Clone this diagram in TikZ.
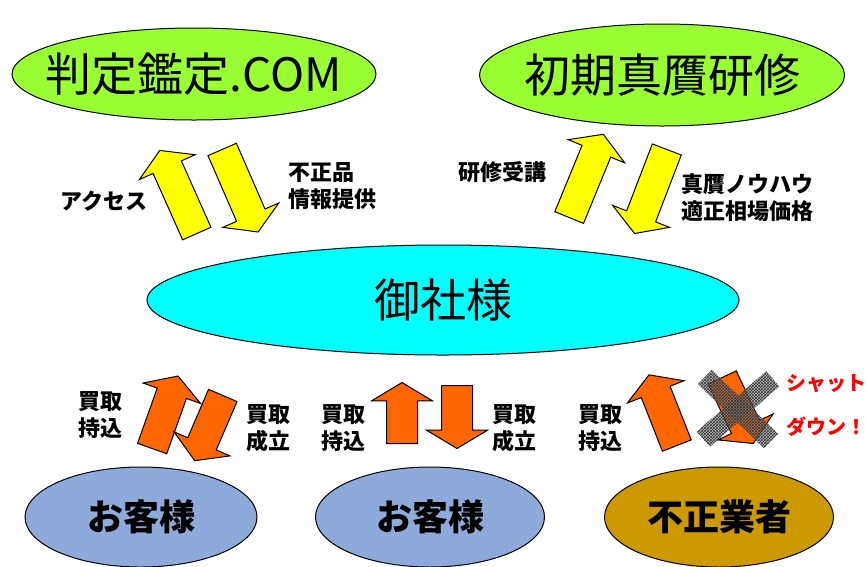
\documentclass[tikz,border=0pt]{standalone}
\usepackage{fontspec}
\newfontfamily\jpfont{Noto Sans CJK JP}
\usetikzlibrary{shapes.geometric,shapes.arrows,patterns}

\definecolor{gruen}{HTML}{99FF33}
\definecolor{tuerkis}{HTML}{00FFFF}
\definecolor{blaugrau}{HTML}{8EAADB}
\definecolor{ocker}{HTML}{CC9900}
\definecolor{gelb}{HTML}{FFFF00}
\definecolor{orange}{HTML}{FF6600}
\definecolor{rot}{HTML}{FF0000}

\begin{document}
\begin{tikzpicture}[x=1pt,y=-1pt,
        font=\jpfont,
        blase/.style={ellipse, draw, line width=1pt, inner sep=0pt},
        gross/.style={inner sep=0pt, font=\jpfont\fontsize{46}{50}\selectfont},
        kunde/.style={inner sep=0pt, font=\jpfont\bfseries\fontsize{36}{40}\selectfont},
        pfeil/.style={single arrow, draw, line width=1pt,
            inner xsep=0pt, inner ysep=15pt,
            single arrow head extend=15pt,
            single arrow tip angle=118, anchor=tail},
        info/.style={inner sep=0pt, align=left,
            font=\jpfont\bfseries\fontsize{22}{27}\selectfont},
        warn/.style={inner sep=0pt, anchor=west, text=rot,
            font=\jpfont\bfseries\fontsize{20}{24}\selectfont},
        balken/.style={rectangle, minimum width=92pt, minimum height=20pt,
            preaction={fill=gray, fill opacity=.55},
            pattern=crosshatch, pattern color=black!80, fill opacity=.55}
        ]
    \useasboundingbox (0,0) rectangle (866,566);

    % Ellipsen
    \node[blase, fill=gruen, minimum width=364pt, minimum height=92pt] (kanteiE) at (194,74) {};
    \node[gross] (kantei) at (kanteiE.center) {判定鑑定.COM};
    \node[blase, fill=gruen, minimum width=365pt, minimum height=102pt] (kenshuE) at (662,75) {};
    \node[gross] (kenshu) at (kenshuE.center) {初期真贋研修};
    \node[blase, fill=tuerkis, minimum width=592pt, minimum height=110pt] (onshaE) at (443,300) {};
    \node[gross] (onsha) at (onshaE.center) {御社様};
    \node[blase, fill=blaugrau, minimum width=232pt, minimum height=100pt] (kyakuAE) at (141,517) {};
    \node[kunde] (kyakuA) at (kyakuAE.center) {お客様};
    \node[blase, fill=blaugrau, minimum width=229pt, minimum height=100pt] (kyakuBE) at (430,517) {};
    \node[kunde] (kyakuB) at (kyakuBE.center) {お客様};
    \node[blase, fill=ocker, minimum width=229pt, minimum height=100pt] (fuseiE) at (719,517) {};
    \node[kunde] (fusei) at (fuseiE.center) {不正業者};

    % Pfeile oben
    \node[pfeil, fill=gelb, rotate=114, minimum height=91pt] (zugriff) at (197,234) {};
    \node[pfeil, fill=gelb, rotate=-66.5, minimum height=90pt] (hinweis) at (222,149) {};
    \node[pfeil, fill=gelb, rotate=67.7, minimum height=90pt] (kurs) at (569,218) {};
    \node[pfeil, fill=gelb, rotate=-111, minimum height=90pt] (wissen) at (667,149) {};

    % Pfeile unten
    \node[pfeil, fill=orange, rotate=70.4, minimum height=77pt] (bringA) at (152,449) {};
    \node[pfeil, fill=orange, rotate=246.7, minimum height=71pt] (kaufA) at (223,395) {};
    \node[pfeil, fill=orange, rotate=90, minimum height=61pt] (bringB) at (402,444) {};
    \node[pfeil, fill=orange, rotate=270, minimum height=63pt] (kaufB) at (457,385) {};
    \node[pfeil, fill=orange, rotate=111.5, minimum height=76pt] (bringC) at (677,446) {};
    \node[pfeil, fill=orange, rotate=-64.8, minimum height=73pt] (kaufC) at (722,377) {};

    % Kreuz
    \node[balken, rotate=-44] (balkenA) at (738,409) {};
    \node[balken, rotate=41] (balkenB) at (738,409) {};

    % Beschriftungen
    \node[info] (zugriffT) at (104,201) {アクセス};
    \node[info, anchor=west] (hinweisT) at (288,186) {不正品\\情報提供};
    \node[info] (kursT) at (502,172) {研修受講};
    \node[info, anchor=west] (wissenT) at (681,198) {真贋ノウハウ\\適正相場価格};
    \node[info] (bringAT) at (100,415) {買取\\持込};
    \node[info] (kaufAT) at (268,428) {買取\\成立};
    \node[info] (bringBT) at (343,428) {買取\\持込};
    \node[info] (kaufBT) at (514,428) {買取\\成立};
    \node[info] (bringCT) at (600,428) {買取\\持込};
    \node[warn] (shutT) at (786,384) {シャット};
    \node[warn] (downT) at (786,427) {ダウン！};

\end{tikzpicture}
\end{document}
